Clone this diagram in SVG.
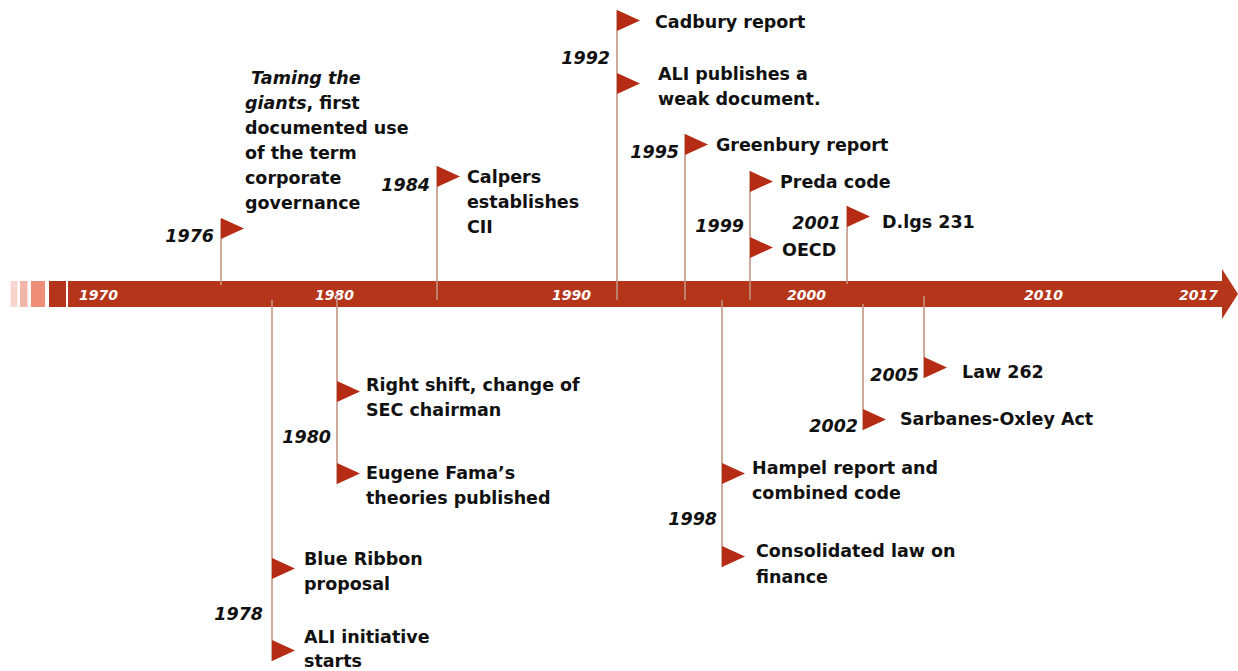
<svg xmlns="http://www.w3.org/2000/svg" width="1238" height="671" viewBox="0 0 1238 671">
<style>
.pole{stroke:#C39483;stroke-width:1.6;fill:none}
.flag{fill:#B52B14}
.t{font-family:"DejaVu Sans",sans-serif;font-weight:bold;font-size:17.5px;fill:#111}
.y{font-family:"DejaVu Sans",sans-serif;font-weight:bold;font-style:italic;font-size:17.5px;fill:#111;text-anchor:end}
.by{font-family:"DejaVu Sans",sans-serif;font-weight:bold;font-style:italic;font-size:14px;fill:#fff}
</style>
<defs>
<polygon id="fl" class="flag" points="0,0 23,10.5 0,21"/>
</defs>
<rect width="1238" height="671" fill="#fff"/>
<g id="timeline-bar">
<rect x="10.5" y="281" width="7" height="26" fill="#F7D6CF"/>
<rect x="20" y="281" width="7.5" height="26" fill="#F2B6A8"/>
<rect x="31" y="281" width="14" height="26" fill="#EE8E79"/>
<rect x="49" y="281" width="17" height="26" fill="#B5351A"/>
<polygon points="68,281 1222,281 1222,269 1238,294 1222,319 1222,307 68,307" fill="#B5351A"/>
<text class="by" x="79" y="299.5">1970</text>
<text class="by" x="315" y="299.5">1980</text>
<text class="by" x="552" y="299.5">1990</text>
<text class="by" x="787" y="299.5">2000</text>
<text class="by" x="1024" y="299.5">2010</text>
<text class="by" x="1179" y="299.5">2017</text>
</g>
<g id="connectors">
<line class="pole" x1="221" y1="219" x2="221" y2="285"/>
<line class="pole" x1="437" y1="166" x2="437" y2="300"/>
<line class="pole" x1="617" y1="10" x2="617" y2="300"/>
<line class="pole" x1="685" y1="134" x2="685" y2="300"/>
<line class="pole" x1="750" y1="171" x2="750" y2="300"/>
<line class="pole" x1="847" y1="206" x2="847" y2="284"/>
<line class="pole" x1="272" y1="300" x2="272" y2="661"/>
<line class="pole" x1="337" y1="296" x2="337" y2="484"/>
<line class="pole" x1="722" y1="300" x2="722" y2="567"/>
<line class="pole" x1="863" y1="304" x2="863" y2="430"/>
<line class="pole" x1="924" y1="296" x2="924" y2="378"/>
</g>
<g id="e1976">
<use href="#fl" x="221" y="218"/>
<text class="y" x="214" y="242">1976</text>
<text class="t" x="251" y="84" font-style="italic">Taming the</text>
<text class="t" x="245" y="109"><tspan font-style="italic">giants</tspan>, first</text>
<text class="t" x="245" y="134">documented use</text>
<text class="t" x="245" y="159">of the term</text>
<text class="t" x="245" y="184">corporate</text>
<text class="t" x="245" y="209">governance</text>
</g>
<g id="e1984">
<use href="#fl" x="437" y="166"/>
<text class="y" x="430" y="191">1984</text>
<text class="t" x="467" y="183">Calpers</text>
<text class="t" x="467" y="208">establishes</text>
<text class="t" x="467" y="233">CII</text>
</g>
<g id="e1992">
<use href="#fl" x="617" y="10"/>
<use href="#fl" x="617" y="73"/>
<text class="y" x="610" y="64">1992</text>
<text class="t" x="655" y="28">Cadbury report</text>
<text class="t" x="658" y="80">ALI publishes a</text>
<text class="t" x="658" y="105">weak document.</text>
</g>
<g id="e1995">
<use href="#fl" x="685" y="134"/>
<text class="y" x="679" y="158">1995</text>
<text class="t" x="716" y="151">Greenbury report</text>
</g>
<g id="e1999">
<use href="#fl" x="750" y="171"/>
<use href="#fl" x="750" y="237"/>
<text class="y" x="744" y="232">1999</text>
<text class="t" x="780" y="188">Preda code</text>
<text class="t" x="782" y="256">OECD</text>
</g>
<g id="e2001">
<use href="#fl" x="847" y="206"/>
<text class="y" x="841" y="229">2001</text>
<text class="t" x="882" y="228">D.lgs 231</text>
</g>
<g id="e1978">
<use href="#fl" x="272" y="558"/>
<use href="#fl" x="272" y="640"/>
<text class="y" x="263" y="620">1978</text>
<text class="t" x="304" y="565">Blue Ribbon</text>
<text class="t" x="304" y="590">proposal</text>
<text class="t" x="304" y="643">ALI initiative</text>
<text class="t" x="304" y="667">starts</text>
</g>
<g id="e1980">
<use href="#fl" x="337" y="381"/>
<use href="#fl" x="337" y="463"/>
<text class="y" x="331" y="443">1980</text>
<text class="t" x="366" y="391">Right shift, change of</text>
<text class="t" x="366" y="416">SEC chairman</text>
<text class="t" x="366" y="479">Eugene Fama’s</text>
<text class="t" x="366" y="504">theories published</text>
</g>
<g id="e1998">
<use href="#fl" x="722" y="463"/>
<use href="#fl" x="722" y="546"/>
<text class="y" x="717" y="525">1998</text>
<text class="t" x="752" y="474">Hampel report and</text>
<text class="t" x="752" y="499">combined code</text>
<text class="t" x="756" y="557">Consolidated law on</text>
<text class="t" x="756" y="583">finance</text>
</g>
<g id="e2002">
<use href="#fl" x="863" y="409"/>
<text class="y" x="858" y="432">2002</text>
<text class="t" x="900" y="425">Sarbanes-Oxley Act</text>
</g>
<g id="e2005">
<use href="#fl" x="924" y="357"/>
<text class="y" x="919" y="381">2005</text>
<text class="t" x="962" y="378">Law 262</text>
</g>
</svg>
